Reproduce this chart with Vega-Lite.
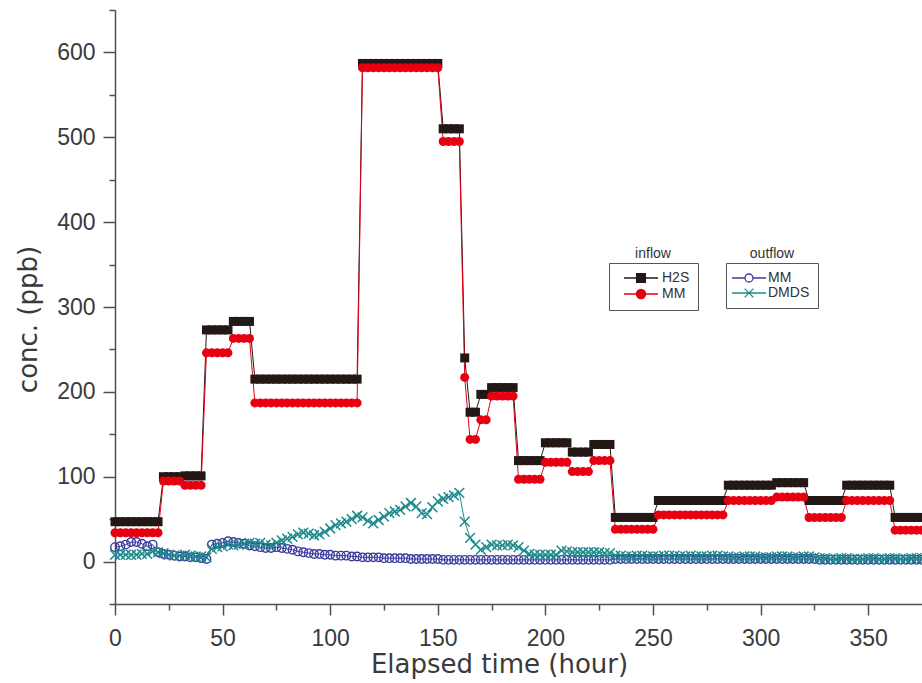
{
 "$schema": "https://vega.github.io/schema/vega-lite/v6.json",
 "width": 807, "height": 594,
 "autosize": {"type": "none"},
 "padding": {"left": 115, "top": 10, "right": 0, "bottom": 79},
 "background": "white",
 "config": {"view": {"stroke": null}, "font": "Liberation Sans"},
 "data": {"values": [
{"t":0,"H2S":47,"MM":34,"oMM":17,"DMDS":8},{"t":2.5,"H2S":47,"MM":34,"oMM":18,"DMDS":8},{"t":5,"H2S":47,"MM":34,"oMM":20,"DMDS":8},{"t":7.5,"H2S":47,"MM":34,"oMM":23,"DMDS":8},{"t":10,"H2S":47,"MM":34,"oMM":23,"DMDS":8},{"t":12.5,"H2S":47,"MM":34,"oMM":21,"DMDS":9},{"t":15,"H2S":47,"MM":34,"oMM":18,"DMDS":9},{"t":17.5,"H2S":47,"MM":34,"oMM":20,"DMDS":12},{"t":20,"H2S":47,"MM":34,"oMM":11,"DMDS":11},
{"t":22.5,"H2S":100,"MM":95,"oMM":9,"DMDS":10},{"t":25,"H2S":100,"MM":95,"oMM":8,"DMDS":8},{"t":27.5,"H2S":100,"MM":95,"oMM":7,"DMDS":7},{"t":30,"H2S":100,"MM":95,"oMM":6,"DMDS":7},
{"t":32.5,"H2S":101,"MM":90,"oMM":6,"DMDS":8},{"t":35,"H2S":101,"MM":90,"oMM":5,"DMDS":7},{"t":37.5,"H2S":101,"MM":90,"oMM":5,"DMDS":6},{"t":40,"H2S":101,"MM":90,"oMM":4,"DMDS":6},
{"t":42.5,"H2S":273,"MM":246,"oMM":3,"DMDS":5},{"t":45,"H2S":273,"MM":246,"oMM":20,"DMDS":15},{"t":47.5,"H2S":273,"MM":246,"oMM":21,"DMDS":17},{"t":50,"H2S":273,"MM":246,"oMM":22,"DMDS":18},{"t":52.5,"H2S":273,"MM":246,"oMM":24,"DMDS":20},
{"t":55,"H2S":283,"MM":263,"oMM":23,"DMDS":19},{"t":57.5,"H2S":283,"MM":263,"oMM":22,"DMDS":20},{"t":60,"H2S":283,"MM":263,"oMM":21,"DMDS":21},{"t":62.5,"H2S":283,"MM":263,"oMM":19,"DMDS":22},
{"t":65,"H2S":215,"MM":187,"oMM":18,"DMDS":21},{"t":67.5,"H2S":215,"MM":187,"oMM":17,"DMDS":22},{"t":70,"H2S":215,"MM":187,"oMM":16,"DMDS":20},{"t":72.5,"H2S":215,"MM":187,"oMM":16,"DMDS":19},{"t":75,"H2S":215,"MM":187,"oMM":17,"DMDS":22},{"t":77.5,"H2S":215,"MM":187,"oMM":16,"DMDS":25},{"t":80,"H2S":215,"MM":187,"oMM":15,"DMDS":27},{"t":82.5,"H2S":215,"MM":187,"oMM":14,"DMDS":29},{"t":85,"H2S":215,"MM":187,"oMM":12,"DMDS":32},{"t":87.5,"H2S":215,"MM":187,"oMM":11,"DMDS":34},{"t":90,"H2S":215,"MM":187,"oMM":10,"DMDS":33},{"t":92.5,"H2S":215,"MM":187,"oMM":9,"DMDS":31},{"t":95,"H2S":215,"MM":187,"oMM":9,"DMDS":32},{"t":97.5,"H2S":215,"MM":187,"oMM":8,"DMDS":35},{"t":100,"H2S":215,"MM":187,"oMM":8,"DMDS":39},{"t":102.5,"H2S":215,"MM":187,"oMM":7,"DMDS":43},{"t":105,"H2S":215,"MM":187,"oMM":7,"DMDS":45},{"t":107.5,"H2S":215,"MM":187,"oMM":7,"DMDS":47},{"t":110,"H2S":215,"MM":187,"oMM":6,"DMDS":50},{"t":112.5,"H2S":215,"MM":187,"oMM":6,"DMDS":54},
{"t":115,"H2S":587,"MM":582,"oMM":5,"DMDS":52},{"t":117.5,"H2S":587,"MM":582,"oMM":5,"DMDS":48},{"t":120,"H2S":587,"MM":582,"oMM":5,"DMDS":45},{"t":122.5,"H2S":587,"MM":582,"oMM":5,"DMDS":49},{"t":125,"H2S":587,"MM":582,"oMM":4,"DMDS":53},{"t":127.5,"H2S":587,"MM":582,"oMM":4,"DMDS":57},{"t":130,"H2S":587,"MM":582,"oMM":4,"DMDS":59},{"t":132.5,"H2S":587,"MM":582,"oMM":4,"DMDS":61},{"t":135,"H2S":587,"MM":582,"oMM":4,"DMDS":65},{"t":137.5,"H2S":587,"MM":582,"oMM":3,"DMDS":69},{"t":140,"H2S":587,"MM":582,"oMM":3,"DMDS":65},{"t":142.5,"H2S":587,"MM":582,"oMM":3,"DMDS":57},{"t":145,"H2S":587,"MM":582,"oMM":3,"DMDS":56},{"t":147.5,"H2S":587,"MM":582,"oMM":3,"DMDS":64},{"t":150,"H2S":587,"MM":582,"oMM":3,"DMDS":71},
{"t":152.5,"H2S":510,"MM":495,"oMM":2,"DMDS":74},{"t":155,"H2S":510,"MM":495,"oMM":2,"DMDS":76},{"t":157.5,"H2S":510,"MM":495,"oMM":2,"DMDS":78},{"t":160,"H2S":510,"MM":495,"oMM":2,"DMDS":81},
{"t":162.5,"H2S":240,"MM":217,"oMM":2,"DMDS":47},{"t":165,"H2S":176,"MM":144,"oMM":2,"DMDS":28},{"t":167.5,"H2S":176,"MM":144,"oMM":2,"DMDS":20},{"t":170,"H2S":197,"MM":167,"oMM":2,"DMDS":14},{"t":172.5,"H2S":197,"MM":167,"oMM":2,"DMDS":17},
{"t":175,"H2S":205,"MM":195,"oMM":2,"DMDS":20},{"t":177.5,"H2S":205,"MM":195,"oMM":2,"DMDS":19},{"t":180,"H2S":205,"MM":195,"oMM":2,"DMDS":19},{"t":182.5,"H2S":205,"MM":195,"oMM":2,"DMDS":20},{"t":185,"H2S":205,"MM":195,"oMM":2,"DMDS":19},
{"t":187.5,"H2S":119,"MM":97,"oMM":2,"DMDS":17},{"t":190,"H2S":119,"MM":97,"oMM":2,"DMDS":13},{"t":192.5,"H2S":119,"MM":97,"oMM":2,"DMDS":9},{"t":195,"H2S":119,"MM":97,"oMM":2,"DMDS":8},{"t":197.5,"H2S":119,"MM":97,"oMM":2,"DMDS":8},
{"t":200,"H2S":140,"MM":117,"oMM":2,"DMDS":8},{"t":202.5,"H2S":140,"MM":117,"oMM":2,"DMDS":8},{"t":205,"H2S":140,"MM":117,"oMM":2,"DMDS":8},{"t":207.5,"H2S":140,"MM":117,"oMM":2,"DMDS":13},{"t":210,"H2S":140,"MM":117,"oMM":2,"DMDS":12},
{"t":212.5,"H2S":129,"MM":106,"oMM":2,"DMDS":11},{"t":215,"H2S":129,"MM":106,"oMM":2,"DMDS":11},{"t":217.5,"H2S":129,"MM":106,"oMM":2,"DMDS":11},{"t":220,"H2S":129,"MM":106,"oMM":2,"DMDS":11},
{"t":222.5,"H2S":138,"MM":119,"oMM":2,"DMDS":11},{"t":225,"H2S":138,"MM":119,"oMM":2,"DMDS":11},{"t":227.5,"H2S":138,"MM":119,"oMM":2,"DMDS":10},{"t":230,"H2S":138,"MM":119,"oMM":2,"DMDS":10},
{"t":232.5,"H2S":52,"MM":38,"oMM":3,"DMDS":7},{"t":235,"H2S":52,"MM":38,"oMM":3,"DMDS":7},{"t":237.5,"H2S":52,"MM":38,"oMM":3,"DMDS":6},{"t":240,"H2S":52,"MM":38,"oMM":3,"DMDS":6},{"t":242.5,"H2S":52,"MM":38,"oMM":3,"DMDS":7},{"t":245,"H2S":52,"MM":38,"oMM":3,"DMDS":7},{"t":247.5,"H2S":52,"MM":38,"oMM":3,"DMDS":6},{"t":250,"H2S":52,"MM":38,"oMM":3,"DMDS":6},
{"t":252.5,"H2S":72,"MM":55,"oMM":3,"DMDS":6},{"t":255,"H2S":72,"MM":55,"oMM":3,"DMDS":7},{"t":257.5,"H2S":72,"MM":55,"oMM":3,"DMDS":7},{"t":260,"H2S":72,"MM":55,"oMM":3,"DMDS":7},{"t":262.5,"H2S":72,"MM":55,"oMM":3,"DMDS":6},{"t":265,"H2S":72,"MM":55,"oMM":3,"DMDS":6},{"t":267.5,"H2S":72,"MM":55,"oMM":3,"DMDS":7},{"t":270,"H2S":72,"MM":55,"oMM":3,"DMDS":6},{"t":272.5,"H2S":72,"MM":55,"oMM":3,"DMDS":6},{"t":275,"H2S":72,"MM":55,"oMM":3,"DMDS":6},{"t":277.5,"H2S":72,"MM":55,"oMM":3,"DMDS":7},{"t":280,"H2S":72,"MM":55,"oMM":3,"DMDS":7},{"t":282.5,"H2S":72,"MM":55,"oMM":3,"DMDS":6},
{"t":285,"H2S":90,"MM":72,"oMM":3,"DMDS":6},{"t":287.5,"H2S":90,"MM":72,"oMM":3,"DMDS":5},{"t":290,"H2S":90,"MM":72,"oMM":3,"DMDS":5},{"t":292.5,"H2S":90,"MM":72,"oMM":3,"DMDS":6},{"t":295,"H2S":90,"MM":72,"oMM":3,"DMDS":6},{"t":297.5,"H2S":90,"MM":72,"oMM":3,"DMDS":6},{"t":300,"H2S":90,"MM":72,"oMM":3,"DMDS":5},{"t":302.5,"H2S":90,"MM":72,"oMM":3,"DMDS":5},{"t":305,"H2S":90,"MM":72,"oMM":3,"DMDS":5},
{"t":307.5,"H2S":93,"MM":76,"oMM":3,"DMDS":6},{"t":310,"H2S":93,"MM":76,"oMM":3,"DMDS":6},{"t":312.5,"H2S":93,"MM":76,"oMM":3,"DMDS":6},{"t":315,"H2S":93,"MM":76,"oMM":3,"DMDS":5},{"t":317.5,"H2S":93,"MM":76,"oMM":3,"DMDS":5},{"t":320,"H2S":93,"MM":76,"oMM":3,"DMDS":6},
{"t":322.5,"H2S":72,"MM":52,"oMM":3,"DMDS":6},{"t":325,"H2S":72,"MM":52,"oMM":3,"DMDS":5},{"t":327.5,"H2S":72,"MM":52,"oMM":2,"DMDS":4},{"t":330,"H2S":72,"MM":52,"oMM":2,"DMDS":4},{"t":332.5,"H2S":72,"MM":52,"oMM":2,"DMDS":3},{"t":335,"H2S":72,"MM":52,"oMM":2,"DMDS":3},{"t":337.5,"H2S":72,"MM":52,"oMM":2,"DMDS":4},
{"t":340,"H2S":90,"MM":72,"oMM":2,"DMDS":4},{"t":342.5,"H2S":90,"MM":72,"oMM":2,"DMDS":3},{"t":345,"H2S":90,"MM":72,"oMM":2,"DMDS":3},{"t":347.5,"H2S":90,"MM":72,"oMM":2,"DMDS":3},{"t":350,"H2S":90,"MM":72,"oMM":2,"DMDS":4},{"t":352.5,"H2S":90,"MM":72,"oMM":2,"DMDS":4},{"t":355,"H2S":90,"MM":72,"oMM":2,"DMDS":3},{"t":357.5,"H2S":90,"MM":72,"oMM":2,"DMDS":3},{"t":360,"H2S":90,"MM":72,"oMM":2,"DMDS":4},
{"t":362.5,"H2S":52,"MM":37,"oMM":2,"DMDS":4},{"t":365,"H2S":52,"MM":37,"oMM":2,"DMDS":3},{"t":367.5,"H2S":52,"MM":37,"oMM":2,"DMDS":3},{"t":370,"H2S":52,"MM":37,"oMM":2,"DMDS":4},{"t":372.5,"H2S":52,"MM":37,"oMM":2,"DMDS":4},{"t":375,"H2S":52,"MM":37,"oMM":2,"DMDS":4}
 ]},
 "encoding": {
  "x": {"field": "t", "type": "quantitative",
   "scale": {"domain": [0, 375], "nice": false, "zero": false},
   "axis": {
    "values": [0,25,50,75,100,125,150,175,200,225,250,275,300,325,350],
    "labelExpr": "datum.value % 50 ? '' : datum.label",
    "tickSize": {"condition": {"test": "datum.value % 50 === 0", "value": 11}, "value": 6},
    "tickColor": "#505050", "tickWidth": 1.5, "domainColor": "#505050", "domainWidth": 1.5,
    "grid": false, "labelFontSize": 23, "labelColor": "#3a3a3a", "labelFont": "Liberation Sans",
    "labelPadding": 12, "labelFlush": false, "labelOverlap": false,
    "title": "Elapsed time (hour)", "titleFont": "DejaVu Sans", "titleFontSize": 26, "titleFontWeight": "normal",
    "titleColor": "#3a3a3a", "titleX": 384, "titleY": 60, "titleBaseline": "middle", "titleAlign": "center"
   }},
  "y": {"field": "value", "type": "quantitative",
   "scale": {"domain": [-50, 650], "nice": false, "zero": false},
   "axis": {
    "values": [-50,0,50,100,150,200,250,300,350,400,450,500,550,600,650],
    "labelExpr": "datum.value % 100 ? '' : datum.label",
    "tickSize": {"condition": {"test": "datum.value % 100 === 0", "value": 12}, "value": 6},
    "tickColor": "#505050", "tickWidth": 1.5, "domainColor": "#505050", "domainWidth": 1.5,
    "grid": false, "labelFontSize": 23, "labelColor": "#3a3a3a", "labelFont": "Liberation Sans",
    "labelPadding": 8, "labelFlush": false, "labelOverlap": false,
    "title": "conc. (ppb)", "titleFont": "DejaVu Sans", "titleFontSize": 26, "titleFontWeight": "normal",
    "titleColor": "#3a3a3a", "titleX": -87, "titleY": 309, "titleAngle": -90, "titleBaseline": "middle", "titleAlign": "center"
   }}
 },
 "layer": [
  {
   "transform": [{"fold": ["oMM", "DMDS"], "as": ["key", "value"]}],
   "encoding": {"color": {"field": "key", "type": "nominal",
     "scale": {"domain": ["oMM", "DMDS"], "range": ["#3b3b9e", "#1f8a8c"]},
     "legend": {"title": "outflow", "orient": "none", "legendX": 611, "legendY": 253,
      "titleOrient": "top", "titleAnchor": "middle", "titleFontSize": 14, "titleFontWeight": "normal", "titleColor": "#333333", "titleFont": "Liberation Sans",
      "titlePadding": -14, "padding": 8, "strokeColor": "#555555",
      "labelExpr": "datum.label === 'oMM' ? 'MM' : datum.label",
      "labelFontSize": 14, "labelColor": "#333333", "labelFont": "Liberation Sans",
      "symbolSize": 64, "symbolOffset": 8, "labelOffset": 12, "rowPadding": 1,
      "encode": {
       "title": {"update": {"dy": {"value": -24}}},
       "symbols": {"update": {
        "shape": {"signal": "datum.value === 'oMM' ? 'M-4.25,0H-1M1,0H4.25M1,0A1,1,0,1,1,-1,0A1,1,0,1,1,1,0' : 'M-4.25,0H4.25M-1.1,-1.1L1.1,1.1M-1.1,1.1L1.1,-1.1'"},
        "stroke": {"signal": "datum.value === 'oMM' ? '#3b3b9e' : '#1f8a8c'"},
        "fill": {"value": "transparent"},
        "strokeWidth": {"value": 1.3},
        "size": {"value": 64},
        "opacity": {"value": 1}
       }}
      }}}
   },
   "layer": [
    {"mark": {"type": "line", "strokeWidth": 1}},
    {"transform": [{"filter": "datum.key === 'oMM'"}],
     "mark": {"type": "point", "shape": "circle", "filled": false, "size": 72, "strokeWidth": 1.4, "opacity": 1}},
    {"transform": [{"filter": "datum.key === 'DMDS'"}],
     "mark": {"type": "point", "shape": "M-1.15,-1.15L1.15,1.15M-1.15,1.15L1.15,-1.15", "filled": false, "size": 72, "strokeWidth": 1.5, "opacity": 1}}
   ]
  },
  {
   "transform": [{"fold": ["H2S", "MM"], "as": ["key", "value"]}],
   "encoding": {"color": {"field": "key", "type": "nominal",
     "scale": {"domain": ["H2S", "MM"], "range": ["#231815", "#e60012"]},
     "legend": {"title": "inflow", "orient": "none", "legendX": 494, "legendY": 253,
      "titleOrient": "top", "titleAnchor": "middle", "titleFontSize": 14, "titleFontWeight": "normal", "titleColor": "#333333", "titleFont": "Liberation Sans",
      "titlePadding": -14, "padding": 8, "strokeColor": "#555555",
      "labelFontSize": 14, "labelColor": "#333333", "labelFont": "Liberation Sans",
      "symbolSize": 64, "symbolOffset": 17, "labelOffset": 14, "rowPadding": 1,
      "encode": {
       "title": {"update": {"dy": {"value": -24}}},
       "symbols": {"update": {
        "shape": {"signal": "datum.value === 'H2S' ? 'M-4.25,0H4.25M-1.1,-1.1H1.1V1.1H-1.1Z' : 'M-4.25,0H4.25M1.15,0A1.15,1.15,0,1,1,-1.15,0A1.15,1.15,0,1,1,1.15,0Z'"},
        "stroke": {"signal": "datum.value === 'H2S' ? '#231815' : '#e60012'"},
        "fill": {"signal": "datum.value === 'H2S' ? '#231815' : '#e60012'"},
        "strokeWidth": {"value": 1.3},
        "size": {"value": 64},
        "opacity": {"value": 1}
       }}
      }}}
   },
   "layer": [
    {"mark": {"type": "line", "strokeWidth": 1}},
    {"transform": [{"filter": "datum.key === 'H2S'"}],
     "mark": {"type": "point", "shape": "square", "filled": true, "size": 81, "opacity": 1}},
    {"transform": [{"filter": "datum.key === 'MM'"}],
     "mark": {"type": "point", "shape": "circle", "filled": true, "size": 81, "opacity": 1}}
   ]
  }
 ],
 "resolve": {"scale": {"color": "independent"}}
}
